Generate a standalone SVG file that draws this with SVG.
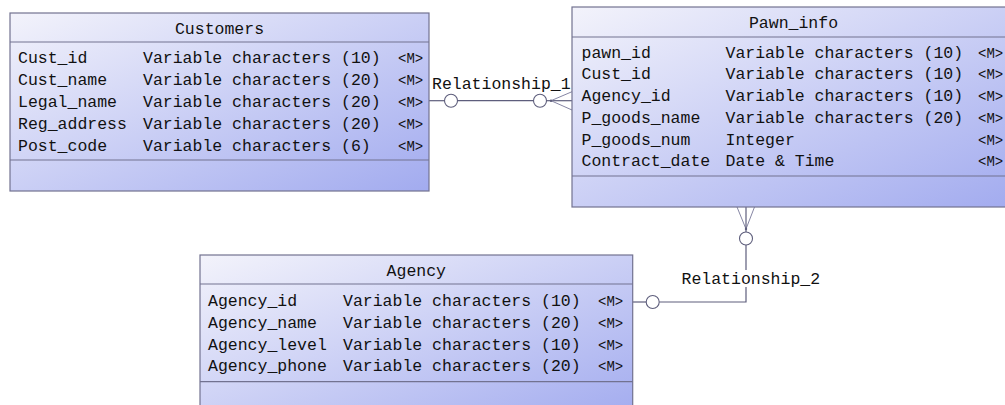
<svg xmlns="http://www.w3.org/2000/svg" width="1005" height="405" viewBox="0 0 1005 405">
  <defs>
    <linearGradient id="fill" x1="0" y1="0" x2="1" y2="1">
      <stop offset="0" stop-color="#f3f3fb"/>
      <stop offset="1" stop-color="#a2abef"/>
    </linearGradient>
  </defs>
  <style>
    .box { fill: url(#fill); stroke: #727290; stroke-width: 1.2; }
    .sep { stroke: #727290; stroke-width: 1.2; }
    .t { font-family: "Liberation Mono", "DejaVu Sans Mono", monospace; font-size: 16.5px; fill: #111; }
    .m { font-size: 14px; }
    .h { text-anchor: middle; }
    .conn line, .conn polyline { stroke: #5e5e7c; stroke-width: 1.2; fill: none; }
    .conn circle { fill: #ffffff; stroke: #5e5e7c; stroke-width: 1.1; }
    .foot { stroke: #8686a4 !important; stroke-width: 1 !important; }
  </style>
  <rect x="0" y="0" width="1005" height="405" fill="#ffffff"/>

  <g id="connectors" class="conn">
    <!-- Relationship_1 -->
    <line x1="429" y1="100.7" x2="444.5" y2="100.7"/>
    <circle cx="451" cy="100.7" r="6.5"/>
    <line x1="457.5" y1="100.7" x2="533.5" y2="100.7"/>
    <circle cx="540" cy="100.7" r="6.5"/>
    <line x1="546.5" y1="100.7" x2="572" y2="100.7"/>
    <line class="foot" x1="551" y1="100.7" x2="572" y2="91.7"/>
    <line class="foot" x1="551" y1="100.7" x2="572" y2="110"/>
    <circle cx="551" cy="100.7" r="1.2" style="fill:#5e5e7c;stroke:none"/>
    <text class="t" x="432" y="88.5">Relationship_1</text>
    <!-- Relationship_2 -->
    <line class="foot" x1="737" y1="207" x2="746" y2="229"/>
    <line class="foot" x1="754.5" y1="207" x2="746" y2="229"/>
    <line x1="746" y1="207" x2="746" y2="232"/>
    <circle cx="746" cy="229" r="1.2" style="fill:#5e5e7c;stroke:none"/>
    <circle cx="746" cy="238.5" r="6.5"/>
    <polyline points="746,245 746,302 659.2,302"/>
    <circle cx="652.7" cy="302" r="6.5"/>
    <line x1="632.7" y1="302" x2="646.2" y2="302"/>
    <rect x="680" y="270" width="141" height="17" fill="#ffffff"/>
    <text class="t" x="681.5" y="283.5">Relationship_2</text>
  </g>

  <g id="customers">
    <rect class="box" x="10" y="13" width="419" height="178"/>
    <line class="sep" x1="10" y1="42" x2="429" y2="42"/>
    <line class="sep" x1="10" y1="160" x2="429" y2="160"/>
    <text class="t h" x="219.5" y="34">Customers</text>
    <text class="t" x="18" y="63">Cust_id</text>
    <text class="t" x="143" y="63">Variable characters (10)</text>
    <text class="t m" x="398" y="63">&lt;M&gt;</text>
    <text class="t" x="18" y="85">Cust_name</text>
    <text class="t" x="143" y="85">Variable characters (20)</text>
    <text class="t m" x="398" y="85">&lt;M&gt;</text>
    <text class="t" x="18" y="107">Legal_name</text>
    <text class="t" x="143" y="107">Variable characters (20)</text>
    <text class="t m" x="398" y="107">&lt;M&gt;</text>
    <text class="t" x="18" y="129">Reg_address</text>
    <text class="t" x="143" y="129">Variable characters (20)</text>
    <text class="t m" x="398" y="129">&lt;M&gt;</text>
    <text class="t" x="18" y="151">Post_code</text>
    <text class="t" x="143" y="151">Variable characters (6)</text>
    <text class="t m" x="398" y="151">&lt;M&gt;</text>
  </g>

  <g id="pawn_info">
    <rect class="box" x="572" y="7" width="443" height="200"/>
    <line class="sep" x1="572" y1="37" x2="1015" y2="37"/>
    <line class="sep" x1="572" y1="176" x2="1015" y2="176"/>
    <text class="t h" x="793.5" y="27.5">Pawn_info</text>
    <text class="t" x="581.5" y="57.5">pawn_id</text>
    <text class="t" x="725.5" y="57.5">Variable characters (10)</text>
    <text class="t m" x="978" y="57.5">&lt;M&gt;</text>
    <text class="t" x="581.5" y="79.3">Cust_id</text>
    <text class="t" x="725.5" y="79.3">Variable characters (10)</text>
    <text class="t m" x="978" y="79.3">&lt;M&gt;</text>
    <text class="t" x="581.5" y="101">Agency_id</text>
    <text class="t" x="725.5" y="101">Variable characters (10)</text>
    <text class="t m" x="978" y="101">&lt;M&gt;</text>
    <text class="t" x="581.5" y="122.8">P_goods_name</text>
    <text class="t" x="725.5" y="122.8">Variable characters (20)</text>
    <text class="t m" x="978" y="122.8">&lt;M&gt;</text>
    <text class="t" x="581.5" y="144.6">P_goods_num</text>
    <text class="t" x="725.5" y="144.6">Integer</text>
    <text class="t m" x="978" y="144.6">&lt;M&gt;</text>
    <text class="t" x="581.5" y="166.4">Contract_date</text>
    <text class="t" x="725.5" y="166.4">Date &amp; Time</text>
    <text class="t m" x="978" y="166.4">&lt;M&gt;</text>
  </g>

  <g id="agency">
    <rect class="box" x="200" y="255" width="432.7" height="165"/>
    <line class="sep" x1="200" y1="284" x2="632.7" y2="284"/>
    <line class="sep" x1="200" y1="381.7" x2="632.7" y2="381.7"/>
    <text class="t h" x="416.3" y="276">Agency</text>
    <text class="t" x="208" y="306">Agency_id</text>
    <text class="t" x="343" y="306">Variable characters (10)</text>
    <text class="t m" x="598" y="306">&lt;M&gt;</text>
    <text class="t" x="208" y="327.8">Agency_name</text>
    <text class="t" x="343" y="327.8">Variable characters (20)</text>
    <text class="t m" x="598" y="327.8">&lt;M&gt;</text>
    <text class="t" x="208" y="349.6">Agency_level</text>
    <text class="t" x="343" y="349.6">Variable characters (10)</text>
    <text class="t m" x="598" y="349.6">&lt;M&gt;</text>
    <text class="t" x="208" y="371.4">Agency_phone</text>
    <text class="t" x="343" y="371.4">Variable characters (20)</text>
    <text class="t m" x="598" y="371.4">&lt;M&gt;</text>
  </g>
</svg>
